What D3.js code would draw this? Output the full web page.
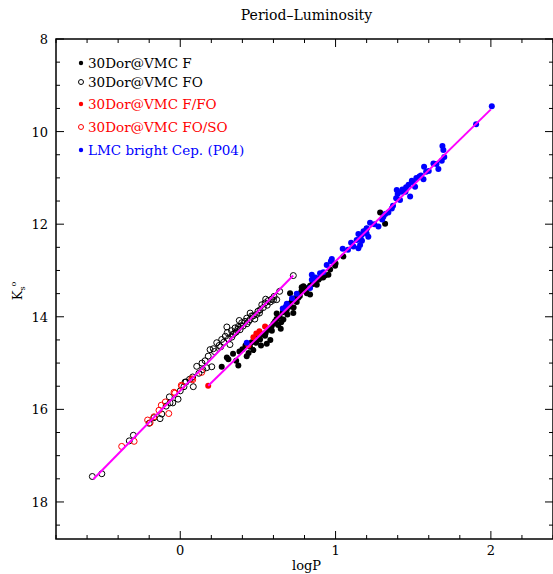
<!DOCTYPE html>
<html>
<head>
<meta charset="utf-8">
<script src="https://cdn.jsdelivr.net/npm/d3@7"></script>
<style>
  body { margin: 0; background: #fff; }
  text { font-family: "DejaVu Serif", serif; }
</style>
</head>
<body>
<div id="chart"></div>
<script>
// Period-Luminosity relation, logP vs Ks0

// 30Dor@VMC fundamental mode (filled black)
const cepF = [
  [0.267,15.08],[0.31,14.92],[0.374,15.05],[0.381,14.75],[0.428,14.85],[0.449,14.65],[0.471,14.72],
  [0.488,14.56],[0.514,14.49],[0.546,14.41],[0.557,14.58],[0.567,14.28],[0.588,14.21],[0.61,14.10],
  [0.621,13.93],[0.647,14.26],[0.664,14.06],[0.686,13.85],[0.707,13.49],[0.728,13.92],[0.760,13.59],
  [0.782,13.36],[0.815,13.49],[0.836,13.33],[0.857,13.21],[0.879,13.31],[0.9,13.16],[0.932,13.11],
  [0.965,12.98],[0.997,12.90],[0.793,13.34],[0.836,13.52],[0.954,13.09],[1.287,11.75],[1.319,11.99],
  [0.3,14.88],[0.34,14.8],[0.4,14.7],[0.42,14.62],[0.46,14.55],[0.5,14.45],[0.53,14.38],[0.6,14.15],
  [0.62,14.05],[0.64,14.0],[0.66,13.9],[0.68,13.8],[0.7,13.72],[0.72,13.65],[0.74,13.6],[0.76,13.52],
  [0.78,13.45],[0.8,13.4],[0.82,13.38],[0.85,13.3],[0.87,13.25],[0.59,14.3],[0.63,14.18],[0.55,14.35],
  [0.69,13.95],[0.71,13.78],[0.75,13.68],[0.77,13.55],[0.89,13.2],[0.92,13.15],[1.0,12.85],[1.05,12.7],
  [1.2,12.1],[0.52,14.62],[0.58,14.5],[0.65,14.12],[0.73,13.8],[0.44,14.78],[0.36,14.95]
];

// 30Dor@VMC first overtone (open black)
const cepFO = [
  [-0.566,17.45],[-0.505,17.39],[-0.328,16.68],[-0.302,16.56],[-0.13,16.2],[-0.119,16.10],[-0.091,15.93],
  [-0.07,15.73],[-0.066,15.86],[-0.048,15.86],[-0.014,15.78],[0.024,15.51],[0.037,15.41],[0.084,15.51],
  [0.031,15.41],[0.06,15.35],[0.106,15.07],[0.145,15.14],[0.17,15.10],[0.203,15.08],[0.192,14.71],
  [0.213,14.69],[0.235,14.56],[0.25,14.62],[0.267,14.49],[0.28,14.55],[0.303,14.34],[0.32,14.60],
  [0.332,14.44],[0.34,14.38],[0.353,14.24],[0.36,14.33],[0.374,14.21],[0.385,14.28],[0.396,14.13],
  [0.405,14.2],[0.417,14.10],[0.428,14.03],[0.44,14.1],[0.449,14.06],[0.46,13.98],[0.471,13.98],
  [0.48,14.05],[0.492,13.95],[0.5,13.88],[0.514,13.85],[0.525,13.74],[0.535,13.8],[0.546,13.70],
  [0.567,13.65],[0.588,13.62],[0.604,13.56],[0.621,13.63],[0.728,13.11],[0.14,15.0],[0.16,14.95],
  [0.18,14.85],[0.22,14.75],[0.26,14.65],[0.29,14.42],[0.31,14.48],[0.33,14.3],[0.35,14.35],[0.37,14.27],
  [0.39,14.2],[0.43,14.15],[0.51,13.92],[0.56,13.75],[0.58,13.68],[0.6,13.64],[-0.17,16.18],[-0.2,16.3],
  [0.0,15.6],[0.08,15.3],[0.12,15.22],[0.3,14.22],[0.38,14.08],[0.45,13.92],[0.55,13.62],[0.64,13.45]
];

// 30Dor@VMC F/FO (filled red)
const cepFFO = [[0.18,15.49],[0.439,14.62],[0.471,14.44],[0.51,14.31],[0.546,14.21],[0.49,14.36]];

// 30Dor@VMC FO/SO (open red)
const cepFOSO = [
  [-0.377,16.80],[-0.297,16.69],[-0.21,16.23],[-0.194,16.29],[-0.169,16.16],[-0.137,16.02],[-0.122,15.91],
  [-0.096,15.84],[-0.074,16.09],[-0.035,15.65],[0.007,15.48],[0.08,15.36],[0.01,15.50],[0.074,15.34],
  [0.138,15.20],[-0.04,15.63]
];

// LMC bright Cepheids (P04), filled blue
const cepLMC = [
  [2.006,9.45],[1.905,9.84],[1.688,10.31],[1.694,10.40],[1.684,10.63],[1.662,10.81],[1.63,10.69],[1.57,10.76],
  [1.583,10.87],[1.566,11.03],[1.54,10.97],[1.512,11.19],[1.491,11.06],[1.48,11.40],[1.454,11.20],[1.426,11.30],
  [1.394,11.26],[1.39,11.44],[1.415,11.48],[1.362,11.66],[1.34,11.75],[1.308,11.84],[1.276,12.05],[1.222,11.97],
  [1.201,12.09],[1.211,12.27],[1.169,12.23],[1.147,12.21],[1.136,12.34],[1.158,12.45],[1.115,12.48],[1.147,12.52],
  [1.046,12.53],[0.976,12.75],[0.943,12.88],[0.847,13.09],[0.9,13.06],[0.921,13.04],[0.836,13.38],[0.428,14.56],
  [0.686,13.72],[0.847,13.2],[0.68,13.78],[0.72,13.6],[0.75,13.5],[0.87,13.15],[1.1,12.4],[1.16,12.3],[1.18,12.15],
  [1.25,12.0],[1.3,11.9],[1.32,11.78],[1.37,11.6],[1.4,11.35],[1.43,11.25],[1.45,11.3],[1.47,11.15],[1.5,11.1],
  [1.52,11.0],[1.55,10.95],[1.6,10.85],[1.65,10.7],[1.7,10.55],[1.2,12.2],[1.17,12.36],[1.08,12.55],[0.97,12.8],
  [0.66,13.82]
];

// fitted PL relations (end points)
const fitFO = [[-0.56,17.51],[0.727,13.11]];
const fitF = [[0.18,15.49],[2.0,9.52]];

const legendLabels = ["30Dor@VMC F", "30Dor@VMC FO", "30Dor@VMC F/FO", "30Dor@VMC FO/SO", "LMC bright Cep. (P04)"];
const xTicks = [0, 1, 2];
const yTicks = [8, 10, 12, 14, 16, 18];

const width = 553, height = 574;
const margin = {top: 39, right: 0, bottom: 35, left: 56};

const svg = d3.select("#chart").append("svg")
    .attr("width", width)
    .attr("height", height);

const x = d3.scaleLinear().domain([-0.8, 2.4]).range([margin.left, width]);
const y = d3.scaleLinear().domain([8, 18.8]).range([margin.top, height - margin.bottom]);

const x0 = margin.left, x1 = width, y0 = margin.top, y1 = height - margin.bottom;

// frame
svg.append("rect")
    .attr("x", x0).attr("y", y0)
    .attr("width", x1 - x0).attr("height", y1 - y0)
    .attr("fill", "none").attr("stroke", "#000").attr("stroke-width", 1.5);

// ticks on all sides, pointing inward
const xMinor = d3.range(-0.8, 2.41, 0.2).map(v => +v.toFixed(1));
const yMinor = d3.range(8, 18.81, 0.5);
const isMajor = v => Math.abs(v - Math.round(v)) < 1e-6;

const tk = svg.append("g").attr("stroke", "#000").attr("stroke-width", 1);
xMinor.forEach(v => {
  const len = isMajor(v) ? 8 : 4;
  tk.append("line").attr("x1", x(v)).attr("x2", x(v)).attr("y1", y1).attr("y2", y1 - len);
  tk.append("line").attr("x1", x(v)).attr("x2", x(v)).attr("y1", y0).attr("y2", y0 + len);
});
yMinor.forEach(v => {
  const len = (v % 2 === 0) ? 8 : 4;
  tk.append("line").attr("y1", y(v)).attr("y2", y(v)).attr("x1", x0).attr("x2", x0 + len);
  tk.append("line").attr("y1", y(v)).attr("y2", y(v)).attr("x1", x1).attr("x2", x1 - len);
});

// tick labels
svg.append("g").selectAll("text")
  .data(xTicks).join("text")
    .attr("x", d => x(d)).attr("y", y1 + 16)
    .attr("text-anchor", "middle")
    .attr("font-size", 13)
    .text(d => d);

svg.append("g").selectAll("text")
  .data(yTicks).join("text")
    .attr("x", x0 - 8).attr("y", d => y(d) + 5)
    .attr("text-anchor", "end")
    .attr("font-size", 13)
    .text(d => d);

// title + axis labels
svg.append("text")
    .attr("x", (x0 + x1) / 2 + 2).attr("y", 20)
    .attr("text-anchor", "middle").attr("font-size", 14)
    .text("Period\u2013Luminosity");

svg.append("text")
    .attr("x", (x0 + x1) / 2 + 2).attr("y", 570)
    .attr("text-anchor", "middle").attr("font-size", 13)
    .text("logP");

const yl = svg.append("text")
    .attr("transform", `translate(22, ${(y0 + y1) / 2 + 2}) rotate(-90)`)
    .attr("text-anchor", "middle").attr("font-size", 13);
yl.append("tspan").text("K");
yl.append("tspan").attr("font-size", 8).attr("dy", 3).text("s");
yl.append("tspan").attr("font-size", 8).attr("dy", -9).text("o");

// points
const plot = svg.append("g");

function dots(data, color, filled, r) {
  plot.append("g").selectAll("circle")
    .data(data).join("circle")
      .attr("cx", d => x(d[0]))
      .attr("cy", d => y(d[1]))
      .attr("r", r)
      .attr("fill", filled ? color : "none")
      .attr("stroke", color)
      .attr("stroke-width", filled ? 0 : 1);
}

dots(cepFO, "#000", false, 3);
dots(cepF, "#000", true, 3);
dots(cepFOSO, "#ff0000", false, 3);
dots(cepFFO, "#ff0000", true, 3);
dots(cepLMC, "#0000ff", true, 3);

// fit lines
const line = d3.line().x(d => x(d[0])).y(d => y(d[1]));
[fitFO, fitF].forEach(f => {
  plot.append("path").datum(f)
    .attr("d", line)
    .attr("fill", "none")
    .attr("stroke", "#ff00ff")
    .attr("stroke-width", 2);
});

// legend
const legendColors = ["#000", "#000", "#ff0000", "#ff0000", "#0000ff"];
const legendFilled = [true, false, true, false, true];
const legendY = [63, 82, 104, 127, 150];

const lg = svg.append("g");
legendLabels.forEach((lab, i) => {
  lg.append("circle")
    .attr("cx", 81).attr("cy", legendY[i])
    .attr("r", legendFilled[i] ? 2.2 : 2.5)
    .attr("fill", legendFilled[i] ? legendColors[i] : "none")
    .attr("stroke", legendColors[i])
    .attr("stroke-width", legendFilled[i] ? 0 : 1);
  lg.append("text")
    .attr("x", 88).attr("y", legendY[i] + 4.5)
    .attr("font-size", 13.5)
    .attr("fill", legendColors[i])
    .text(lab);
});
</script>
</body>
</html>
